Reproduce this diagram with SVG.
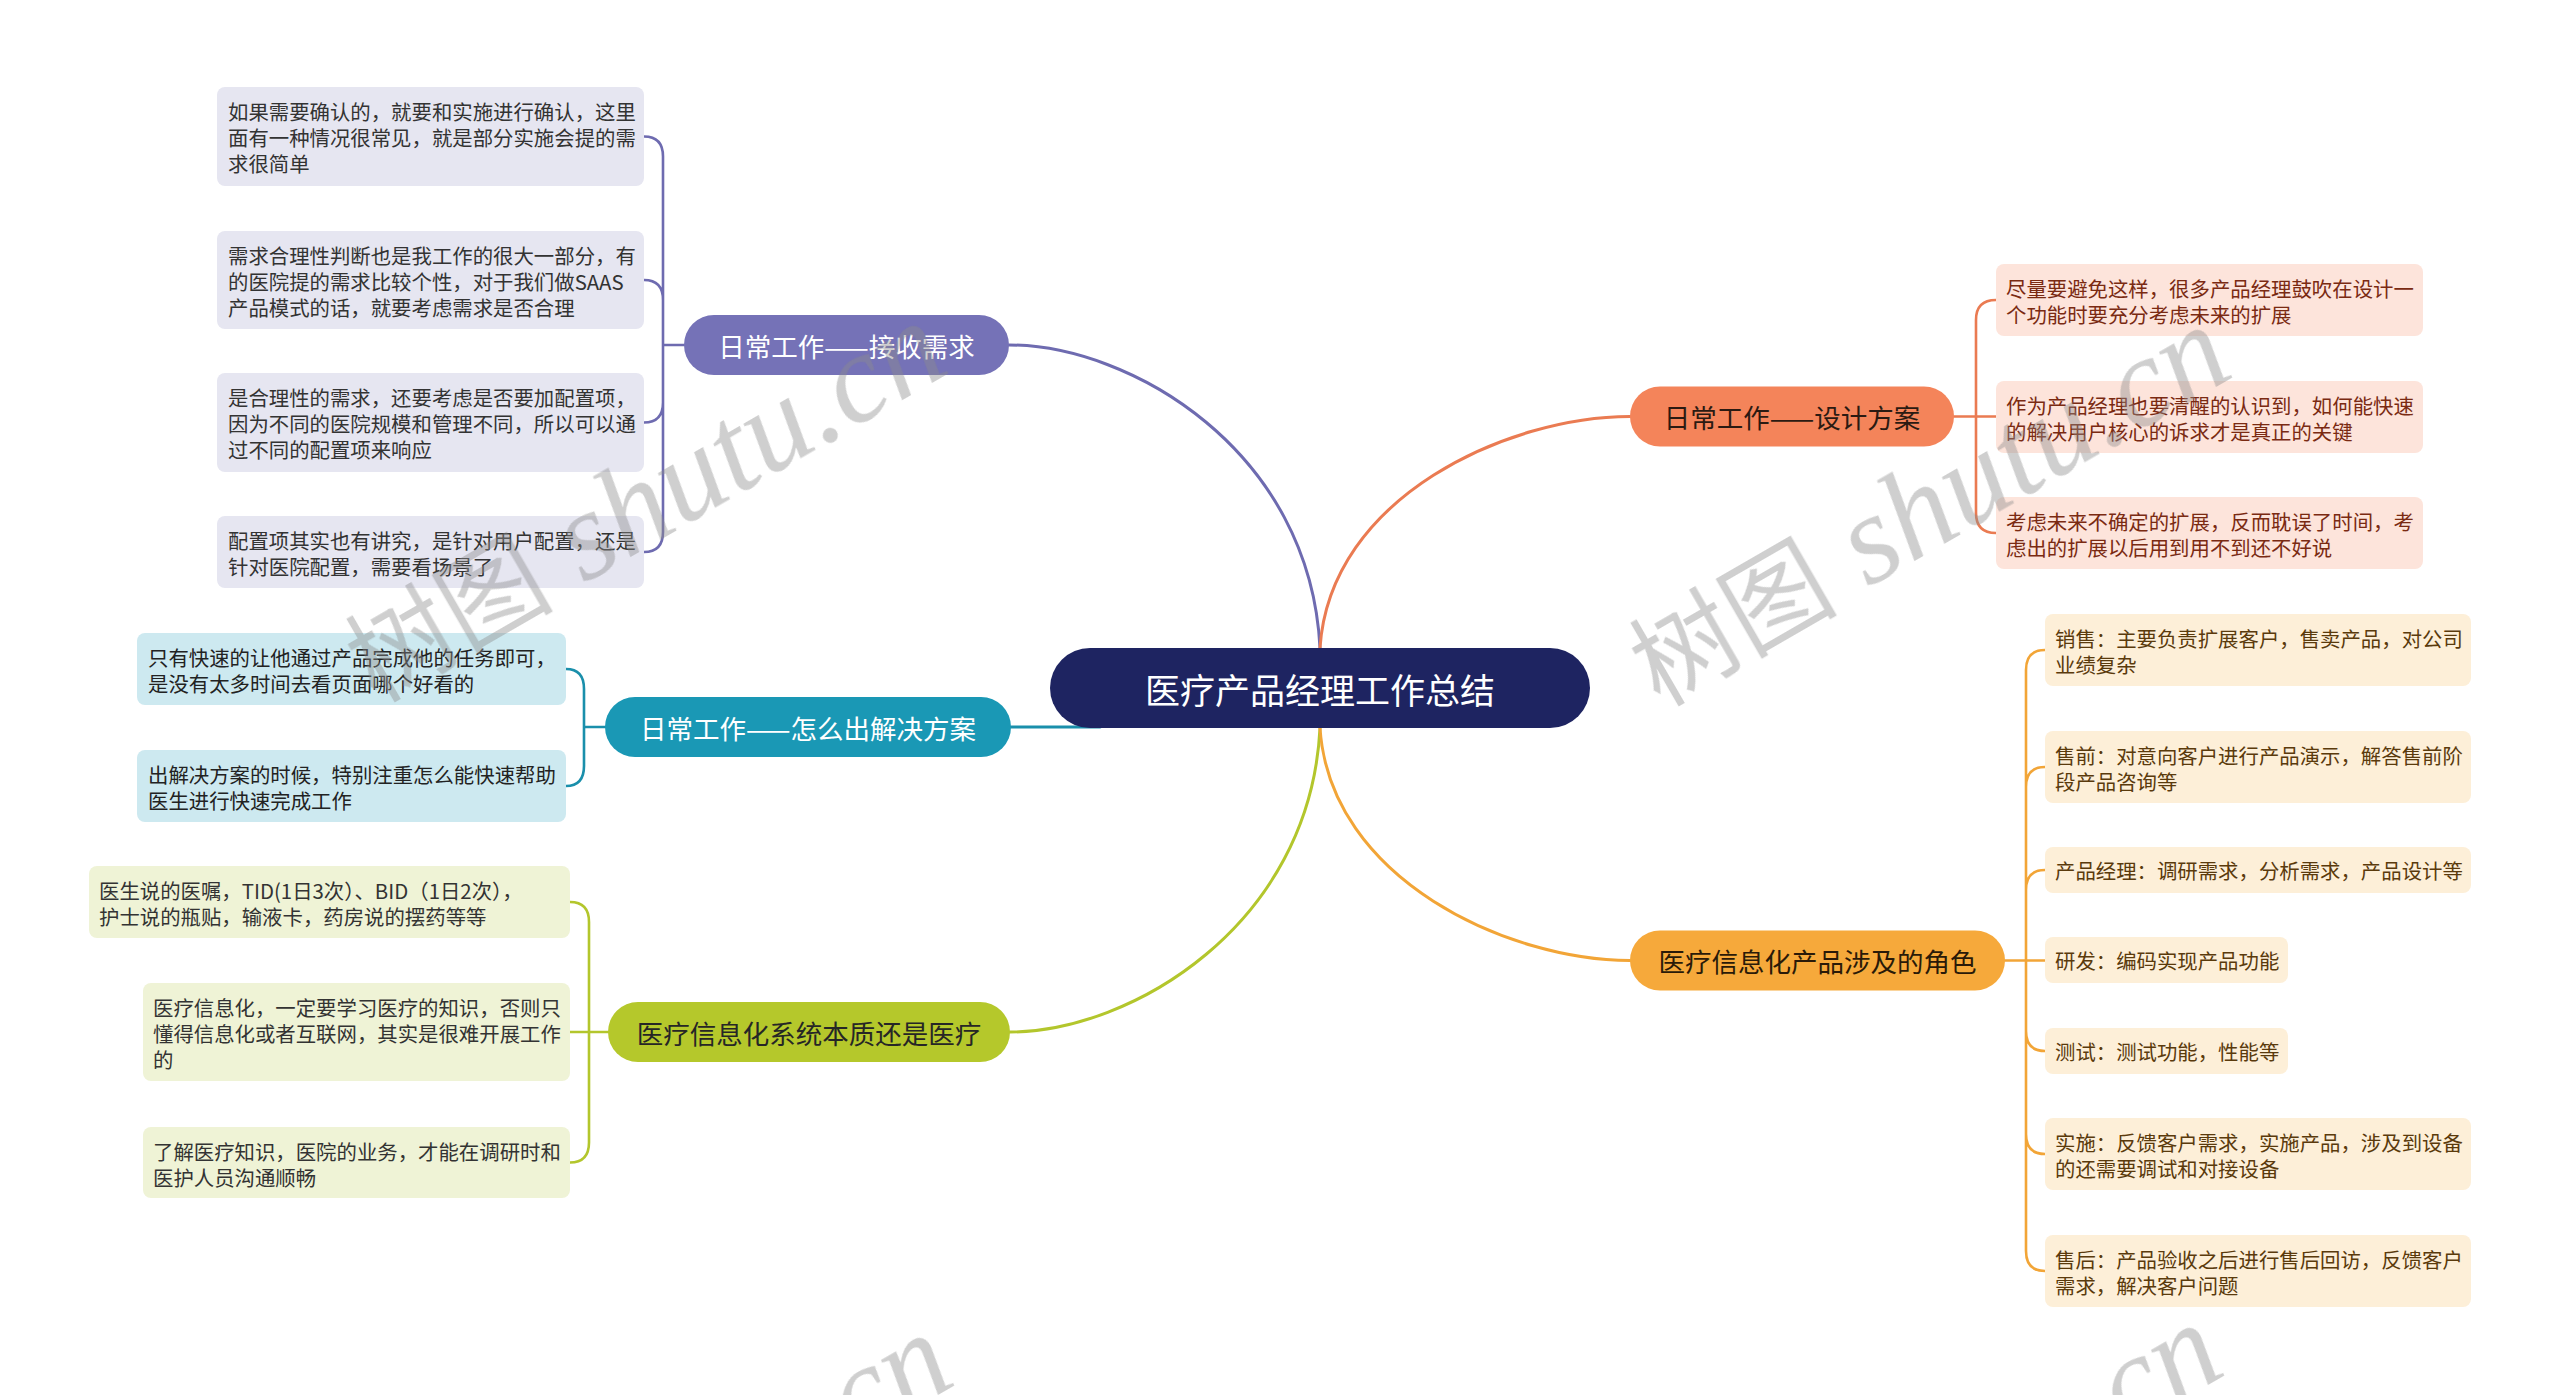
<svg xmlns="http://www.w3.org/2000/svg" width="2560" height="1395" viewBox="0 0 2560 1395">
<style>
text { font-family: "Noto Sans CJK SC", "Noto Sans", sans-serif; }
.lf { font-size: 20.4px; dominant-baseline: central; }
.br { font-size: 26.5px; text-anchor: middle; dominant-baseline: central; }
.ct { font-size: 35px; text-anchor: middle; dominant-baseline: central; fill: #ffffff; }
.cn { fill: none; stroke-linecap: round; }
.main { stroke-width: 3; }
.sub { stroke-width: 2.6; }
.wm { fill: #8c8c8c; opacity: 0.42; }
.wmc { font-family: "Noto Sans CJK SC", sans-serif; font-size: 104px; }
.wml { font-family: "Liberation Serif", serif; font-style: italic; font-size: 127px; }
</style>
<rect width="2560" height="1395" fill="#ffffff"/>

<g id="connectors">
  <path class="cn main" stroke="#6e6bb0" d="M1320,648 C1310,450 1130,345 1009,345"/>
  <path class="cn main" stroke="#ea7b52" d="M1320,648 C1330,496 1509,416.5 1630,416.5"/>
  <path class="cn main" stroke="#b3c62c" d="M1320,728 C1310,926 1130,1032 1010,1032"/>
  <path class="cn main" stroke="#f2a537" d="M1320,728 C1330,880 1509,960.5 1630,960.5"/>
  <path class="cn main" stroke="#1a8fab" d="M1011,727 H1100"/>

  <path class="cn sub" stroke="#6e6bb0" d="M684,345 H663 M663,345 V156.5 Q663,136.5 644,136.5 M663,345 V300 Q663,280 644,280 M663,345 V402.5 Q663,422.5 644,422.5 M663,345 V532 Q663,552 644,552"/>
  <path class="cn sub" stroke="#1a8fab" d="M605,727 H584 M584,727 V689 Q584,669 566,669 M584,727 V766 Q584,786 566,786"/>
  <path class="cn sub" stroke="#b3c62c" d="M608,1032 H570 M589,1032 V922 Q589,902 570,902 M589,1032 V1142.5 Q589,1162.5 570,1162.5"/>
  <path class="cn sub" stroke="#ea7b52" d="M1954,416.5 H1996 M1976,416.5 V320 Q1976,300 1996,300 M1976,416.5 V513 Q1976,533 1996,533"/>
  <path class="cn sub" stroke="#f2a537" d="M2005,960.5 H2045 M2026,960.5 V670 Q2026,650 2045,650 M2026,960.5 V787 Q2026,767 2045,767 M2026,960.5 V890 Q2026,870 2045,870 M2026,960.5 V1031 Q2026,1051 2045,1051 M2026,960.5 V1134 Q2026,1154 2045,1154 M2026,960.5 V1251 Q2026,1271 2045,1271"/>
</g>

<g id="central">
  <rect x="1050" y="648" width="540" height="80" rx="40" fill="#1e2461"/>
  <text class="ct" x="1320" y="688">医疗产品经理工作总结</text>
</g>

<g id="branch-jieshou">
  <rect x="684" y="315" width="325" height="60" rx="30" fill="#7572b7"/>
  <text class="br" x="846.5" y="345" fill="#ffffff">日常工作——接收需求</text>
</g>
<g id="branch-jiejue">
  <rect x="605" y="697" width="406" height="60" rx="30" fill="#1a98b5"/>
  <text class="br" x="808" y="727" fill="#ffffff">日常工作——怎么出解决方案</text>
</g>
<g id="branch-yiliao">
  <rect x="608" y="1002" width="402" height="60" rx="30" fill="#b5c82b"/>
  <text class="br" x="809" y="1032" fill="#262626">医疗信息化系统本质还是医疗</text>
</g>
<g id="branch-sheji">
  <rect x="1630" y="386.5" width="324" height="60" rx="30" fill="#f4845a"/>
  <text class="br" x="1792" y="416.5" fill="#2b1a12">日常工作——设计方案</text>
</g>
<g id="branch-juese">
  <rect x="1630" y="930.5" width="375" height="60" rx="30" fill="#f6a93b"/>
  <text class="br" x="1817.5" y="960.5" fill="#2a1a08">医疗信息化产品涉及的角色</text>
</g>

<g id="leaf-p1">
  <rect x="217" y="87" width="427" height="99" rx="8" fill="#e6e6f1"/>
  <text class="lf" fill="#333333"><tspan x="228" y="111">如果需要确认的，就要和实施进行确认，这里</tspan><tspan x="228" y="137">面有一种情况很常见，就是部分实施会提的需</tspan><tspan x="228" y="163">求很简单</tspan></text>
</g>
<g id="leaf-p2">
  <rect x="217" y="231" width="427" height="98" rx="8" fill="#e6e6f1"/>
  <text class="lf" fill="#333333"><tspan x="228" y="255">需求合理性判断也是我工作的很大一部分，有</tspan><tspan x="228" y="281">的医院提的需求比较个性，对于我们做SAAS</tspan><tspan x="228" y="307">产品模式的话，就要考虑需求是否合理</tspan></text>
</g>
<g id="leaf-p3">
  <rect x="217" y="373" width="427" height="99" rx="8" fill="#e6e6f1"/>
  <text class="lf" fill="#333333"><tspan x="228" y="397">是合理性的需求，还要考虑是否要加配置项，</tspan><tspan x="228" y="423">因为不同的医院规模和管理不同，所以可以通</tspan><tspan x="228" y="449">过不同的配置项来响应</tspan></text>
</g>
<g id="leaf-p4">
  <rect x="217" y="516" width="427" height="72" rx="8" fill="#e6e6f1"/>
  <text class="lf" fill="#333333"><tspan x="228" y="540">配置项其实也有讲究，是针对用户配置，还是</tspan><tspan x="228" y="566">针对医院配置，需要看场景了</tspan></text>
</g>

<g id="leaf-t1">
  <rect x="137" y="633" width="429" height="72" rx="8" fill="#cde9f0"/>
  <text class="lf" fill="#222222"><tspan x="148" y="657">只有快速的让他通过产品完成他的任务即可，</tspan><tspan x="148" y="683">是没有太多时间去看页面哪个好看的</tspan></text>
</g>
<g id="leaf-t2">
  <rect x="137" y="750" width="429" height="72" rx="8" fill="#cde9f0"/>
  <text class="lf" fill="#222222"><tspan x="148" y="774">出解决方案的时候，特别注重怎么能快速帮助</tspan><tspan x="148" y="800">医生进行快速完成工作</tspan></text>
</g>

<g id="leaf-y1">
  <rect x="89" y="866" width="481" height="72" rx="8" fill="#eff3d6"/>
  <text class="lf" fill="#333333"><tspan x="99" y="890">医生说的医嘱，TID(1日3次）、BID（1日2次），</tspan><tspan x="99" y="916">护士说的瓶贴，输液卡，药房说的摆药等等</tspan></text>
</g>
<g id="leaf-y2">
  <rect x="143" y="983" width="427" height="98" rx="8" fill="#eff3d6"/>
  <text class="lf" fill="#333333"><tspan x="153" y="1007">医疗信息化，一定要学习医疗的知识，否则只</tspan><tspan x="153" y="1033">懂得信息化或者互联网，其实是很难开展工作</tspan><tspan x="153" y="1059">的</tspan></text>
</g>
<g id="leaf-y3">
  <rect x="143" y="1127" width="427" height="71" rx="8" fill="#eff3d6"/>
  <text class="lf" fill="#333333"><tspan x="153" y="1151">了解医疗知识，医院的业务，才能在调研时和</tspan><tspan x="153" y="1177">医护人员沟通顺畅</tspan></text>
</g>

<g id="leaf-d1">
  <rect x="1996" y="264" width="427" height="72" rx="8" fill="#fde4db"/>
  <text class="lf" fill="#7a2a12"><tspan x="2006" y="288">尽量要避免这样，很多产品经理鼓吹在设计一</tspan><tspan x="2006" y="314">个功能时要充分考虑未来的扩展</tspan></text>
</g>
<g id="leaf-d2">
  <rect x="1996" y="381" width="427" height="72" rx="8" fill="#fde4db"/>
  <text class="lf" fill="#7a2a12"><tspan x="2006" y="405">作为产品经理也要清醒的认识到，如何能快速</tspan><tspan x="2006" y="431">的解决用户核心的诉求才是真正的关键</tspan></text>
</g>
<g id="leaf-d3">
  <rect x="1996" y="497" width="427" height="72" rx="8" fill="#fde4db"/>
  <text class="lf" fill="#7a2a12"><tspan x="2006" y="521">考虑未来不确定的扩展，反而耽误了时间，考</tspan><tspan x="2006" y="547">虑出的扩展以后用到用不到还不好说</tspan></text>
</g>

<g id="leaf-r1">
  <rect x="2045" y="614" width="426" height="72" rx="8" fill="#fdefd8"/>
  <text class="lf" fill="#5a3a0c"><tspan x="2055" y="638">销售：主要负责扩展客户，售卖产品，对公司</tspan><tspan x="2055" y="664">业绩复杂</tspan></text>
</g>
<g id="leaf-r2">
  <rect x="2045" y="731" width="426" height="72" rx="8" fill="#fdefd8"/>
  <text class="lf" fill="#5a3a0c"><tspan x="2055" y="755">售前：对意向客户进行产品演示，解答售前阶</tspan><tspan x="2055" y="781">段产品咨询等</tspan></text>
</g>
<g id="leaf-r3">
  <rect x="2045" y="847" width="426" height="46" rx="8" fill="#fdefd8"/>
  <text class="lf" fill="#5a3a0c" x="2055" y="870">产品经理：调研需求，分析需求，产品设计等</text>
</g>
<g id="leaf-r4">
  <rect x="2045" y="937" width="243" height="46" rx="8" fill="#fdefd8"/>
  <text class="lf" fill="#5a3a0c" x="2055" y="960">研发：编码实现产品功能</text>
</g>
<g id="leaf-r5">
  <rect x="2045" y="1028" width="243" height="46" rx="8" fill="#fdefd8"/>
  <text class="lf" fill="#5a3a0c" x="2055" y="1051">测试：测试功能，性能等</text>
</g>
<g id="leaf-r6">
  <rect x="2045" y="1118" width="426" height="72" rx="8" fill="#fdefd8"/>
  <text class="lf" fill="#5a3a0c"><tspan x="2055" y="1142">实施：反馈客户需求，实施产品，涉及到设备</tspan><tspan x="2055" y="1168">的还需要调试和对接设备</tspan></text>
</g>
<g id="leaf-r7">
  <rect x="2045" y="1235" width="426" height="72" rx="8" fill="#fdefd8"/>
  <text class="lf" fill="#5a3a0c"><tspan x="2055" y="1259">售后：产品验收之后进行售后回访，反馈客户</tspan><tspan x="2055" y="1285">需求，解决客户问题</tspan></text>
</g>

<g id="watermarks" class="wm">
  <text transform="translate(376,704) rotate(-30)"><tspan class="wmc">树图</tspan><tspan class="wml"> shutu.cn</tspan></text>
  <text transform="translate(1660,708) rotate(-30)"><tspan class="wmc">树图</tspan><tspan class="wml"> shutu.cn</tspan></text>
  <text transform="translate(382,1716) rotate(-30)"><tspan class="wmc">树图</tspan><tspan class="wml"> shutu.cn</tspan></text>
  <text transform="translate(1652,1706) rotate(-30)"><tspan class="wmc">树图</tspan><tspan class="wml"> shutu.cn</tspan></text>
</g>
</svg>
